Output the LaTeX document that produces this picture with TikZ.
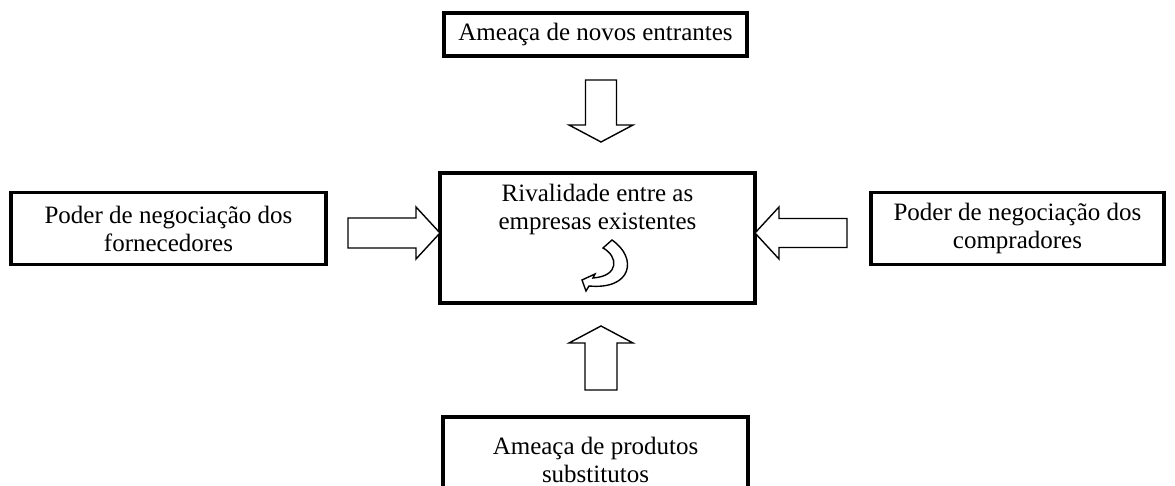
\documentclass[tikz,border=0pt]{standalone}
\usepackage{fontspec}
\setmainfont{Liberation Serif}
\usetikzlibrary{positioning}

\tikzset{
  forcebox/.style={draw, line width=1.75pt, align=center, inner sep=0pt,
    font=\fontsize{12.5}{14}\selectfont},
  forcetext/.style={align=center, inner sep=0pt, font=\fontsize{12.5}{14}\selectfont},
  arrowline/.style={draw, line width=0.7pt, fill=white, line join=miter},
}

% seta larga: ponta, rotacao, comprimento, cabeca, meia haste, meia cabeca
\newcommand{\blockarrow}[6]{%
  \draw[arrowline, shift={(#1)}, rotate=#2] (0,0) -- (-#4,#6) -- (-#4,#5)
    -- (-#3,#5) -- (-#3,-#5) -- (-#4,-#5) -- (-#4,-#6) -- cycle;}

\begin{document}
\begin{tikzpicture}[x=0.5pt, y=-0.5pt]
  \useasboundingbox (0,0) rectangle (1175,486);

  % as cinco forcas
  \node[forcebox, minimum width=151.5pt, minimum height=21.5pt] (entrantes) at (595.5,34.5) {Ameaça de novos entrantes};
  \node[forcebox, minimum width=157.5pt, minimum height=65pt] (rival) at (597.5,238) {};
  \node[forcetext, below=6.5pt of rival.north] (rivaltxt) {Rivalidade entre as\\empresas existentes};
  \node[forcebox, minimum width=157.5pt, minimum height=36pt] (fornecedores) at (168.5,228.5) {Poder de negociação dos\\fornecedores};
  \node[forcebox, minimum width=146.5pt, minimum height=36pt] (compradores) at (1017.5,228.5) {Poder de negociação dos\\compradores};
  \node[forcebox, minimum width=152.5pt, minimum height=43pt] (substitutos) at (595.5,460) {Ameaça de produtos\\substitutos};

  % pontas das setas
  \coordinate (tipT) at (601,142);
  \coordinate (tipB) at (601,326);
  \coordinate (tipL) at (440,233);
  \coordinate (tipR) at (755,233);

  \blockarrow{tipT}{-90}{62}{17}{15.5}{32}
  \blockarrow{tipB}{90}{64}{17}{16}{32}
  \blockarrow{tipL}{0}{92}{24}{15}{26}
  \blockarrow{tipR}{180}{92}{24}{14.5}{26}

  % seta curva dentro da rivalidade
  \draw[arrowline] (612,240) .. controls (638,258) and (632,290) .. (589,286)
    -- (586,291) -- (582,280) -- (595,274) -- (593,278)
    .. controls (620,276) and (618,256) .. (603,248) -- cycle;
\end{tikzpicture}
\end{document}
